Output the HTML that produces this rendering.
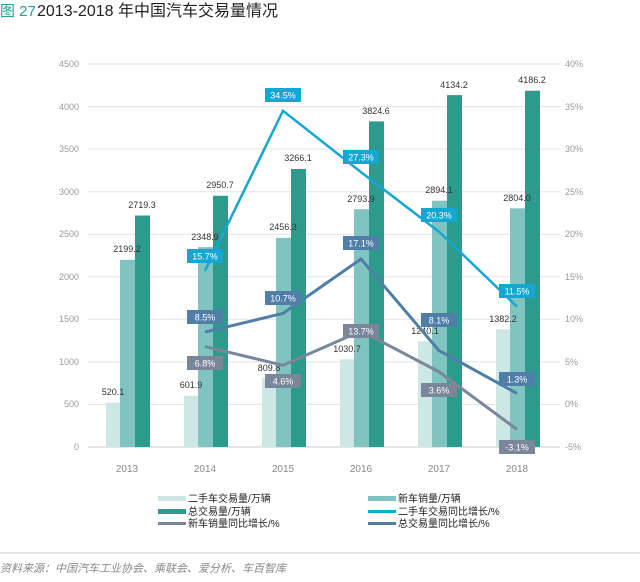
<!DOCTYPE html>
<html><head><meta charset="utf-8"><style>
body{margin:0;background:#fff;width:640px;height:577px;overflow:hidden}
svg text{font-family:"Liberation Sans","Noto Sans CJK SC",sans-serif}
</style></head><body>
<svg width="640" height="577" xmlns="http://www.w3.org/2000/svg">
<text x="0" y="16" font-size="15" fill="#2a9d8f">图 27</text>
<text x="37" y="16" font-size="16" fill="#222">2013-2018 年中国汽车交易量情况</text>
<g stroke="#e3e3e3" stroke-width="1">
<line x1="88" x2="560" y1="64" y2="64"/><line x1="88" x2="560" y1="106.6" y2="106.6"/><line x1="88" x2="560" y1="149.1" y2="149.1"/><line x1="88" x2="560" y1="191.7" y2="191.7"/><line x1="88" x2="560" y1="234.2" y2="234.2"/><line x1="88" x2="560" y1="276.8" y2="276.8"/><line x1="88" x2="560" y1="319.3" y2="319.3"/><line x1="88" x2="560" y1="361.9" y2="361.9"/><line x1="88" x2="560" y1="404.4" y2="404.4"/><line x1="88" x2="560" y1="447" y2="447" stroke="#ccc"/>
</g>
<g font-size="9" fill="#999" text-anchor="end">
<text x="79" y="67">4500</text><text x="79" y="110">4000</text><text x="79" y="152">3500</text><text x="79" y="195">3000</text><text x="79" y="237">2500</text><text x="79" y="280">2000</text><text x="79" y="322">1500</text><text x="79" y="365">1000</text><text x="79" y="407">500</text><text x="79" y="450">0</text>
</g>
<g font-size="9" fill="#999">
<text x="565" y="67">40%</text><text x="565" y="110">35%</text><text x="565" y="152">30%</text><text x="565" y="195">25%</text><text x="565" y="237">20%</text><text x="565" y="280">15%</text><text x="565" y="322">10%</text><text x="565" y="365">5%</text><text x="565" y="407">0%</text><text x="565" y="450">-5%</text>
</g>
<g font-size="10" fill="#888" text-anchor="middle">
<text x="127" y="472">2013</text><text x="205" y="472">2014</text><text x="283" y="472">2015</text><text x="361" y="472">2016</text><text x="439" y="472">2017</text><text x="517" y="472">2018</text>
</g>
<g>
<rect x="106" y="402.7" width="14" height="44.3" fill="#cde7e4"/><rect x="120" y="259.8" width="15" height="187.2" fill="#7fc4c1"/><rect x="135" y="215.5" width="15" height="231.5" fill="#2e9a8e"/>
<rect x="184" y="395.8" width="14" height="51.2" fill="#cde7e4"/><rect x="198" y="247.1" width="15" height="199.9" fill="#7fc4c1"/><rect x="213" y="195.8" width="15" height="251.2" fill="#2e9a8e"/>
<rect x="262" y="378.1" width="14" height="68.9" fill="#cde7e4"/><rect x="276" y="237.9" width="15" height="209.1" fill="#7fc4c1"/><rect x="291" y="169" width="15" height="278" fill="#2e9a8e"/>
<rect x="340" y="359.3" width="14" height="87.7" fill="#cde7e4"/><rect x="354" y="209.2" width="15" height="237.8" fill="#7fc4c1"/><rect x="369" y="121.4" width="15" height="325.6" fill="#2e9a8e"/>
<rect x="418" y="341.4" width="14" height="105.6" fill="#cde7e4"/><rect x="432" y="200.7" width="15" height="246.3" fill="#7fc4c1"/><rect x="447" y="95.1" width="15" height="351.9" fill="#2e9a8e"/>
<rect x="496" y="329.3" width="14" height="117.7" fill="#cde7e4"/><rect x="510" y="208.3" width="15" height="238.7" fill="#7fc4c1"/><rect x="525" y="90.7" width="15" height="356.3" fill="#2e9a8e"/>
</g>
<g font-size="9" fill="#333" text-anchor="middle">
<text x="113" y="395">520.1</text><text x="127" y="252">2199.2</text><text x="142" y="208">2719.3</text>
<text x="191" y="388">601.9</text><text x="205" y="240">2348.9</text><text x="220" y="188">2950.7</text>
<text x="269" y="371">809.8</text><text x="283" y="230">2456.3</text><text x="298" y="161">3266.1</text>
<text x="347" y="352">1030.7</text><text x="361" y="202">2793.9</text><text x="376" y="114">3824.6</text>
<text x="425" y="334">1240.1</text><text x="439" y="193">2894.1</text><text x="454" y="88">4134.2</text>
<text x="503" y="322">1382.2</text><text x="517" y="201">2804.0</text><text x="532" y="83">4186.2</text>
</g>
<polyline fill="none" stroke="#7a8699" stroke-width="3" points="205,346.6 283,365.3 361,331 439,371.8 517,429.4"/>
<polyline fill="none" stroke="#4f7ea6" stroke-width="3" points="205,332.1 283,313.4 361,259 439,350.6 517,393.4"/>
<polyline fill="none" stroke="#14a7d2" stroke-width="2.5" points="205,270.8 283,110.8 361,172.1 439,231.7 517,306.6"/>
<g font-size="9" fill="#fff" text-anchor="middle">
<rect x="187" y="249" width="36" height="14" fill="#14a7d2"/><text x="205" y="259.5">15.7%</text>
<rect x="265" y="88" width="36" height="14" fill="#14a7d2"/><text x="283" y="98.5">34.5%</text>
<rect x="343" y="150" width="36" height="14" fill="#14a7d2"/><text x="361" y="160.5">27.3%</text>
<rect x="421" y="208" width="36" height="14" fill="#14a7d2"/><text x="439" y="218.5">20.3%</text>
<rect x="499" y="284" width="36" height="14" fill="#14a7d2"/><text x="517" y="294.5">11.5%</text>
<rect x="187" y="310" width="36" height="14" fill="#4f7ea6"/><text x="205" y="320.5">8.5%</text>
<rect x="265" y="291" width="36" height="14" fill="#4f7ea6"/><text x="283" y="301.5">10.7%</text>
<rect x="343" y="236" width="36" height="14" fill="#4f7ea6"/><text x="361" y="246.5">17.1%</text>
<rect x="421" y="313" width="36" height="14" fill="#4f7ea6"/><text x="439" y="323.5">8.1%</text>
<rect x="499" y="372" width="36" height="14" fill="#4f7ea6"/><text x="517" y="382.5">1.3%</text>
<rect x="187" y="356" width="36" height="14" fill="#7a8699"/><text x="205" y="366.5">6.8%</text>
<rect x="265" y="374" width="36" height="14" fill="#7a8699"/><text x="283" y="384.5">4.6%</text>
<rect x="343" y="324" width="36" height="14" fill="#7a8699"/><text x="361" y="334.5">13.7%</text>
<rect x="421" y="383" width="36" height="14" fill="#7a8699"/><text x="439" y="393.5">3.6%</text>
<rect x="499" y="440" width="36" height="14" fill="#7a8699"/><text x="517" y="450.5">-3.1%</text>
</g>
<g font-size="10" fill="#222">
<rect x="158" y="496" width="28" height="5" fill="#cde7e4"/><text x="188" y="502">二手车交易量/万辆</text>
<rect x="158" y="509" width="28" height="5" fill="#2e9a8e"/><text x="188" y="515">总交易量/万辆</text>
<rect x="158" y="522" width="28" height="3" fill="#7a8699"/><text x="188" y="527">新车销量同比增长/%</text>
<rect x="368" y="496" width="28" height="5" fill="#7fc4c1"/><text x="398" y="502">新车销量/万辆</text>
<rect x="368" y="510" width="28" height="3" fill="#14a7d2"/><text x="398" y="515">二手车交易同比增长/%</text>
<rect x="368" y="522" width="28" height="3" fill="#4f7ea6"/><text x="398" y="527">总交易量同比增长/%</text>
</g>
<line x1="0" x2="640" y1="553" y2="553" stroke="#ccc"/>
<text x="0" y="572" font-size="11" fill="#888" font-style="italic">资料来源：中国汽车工业协会、乘联会、爱分析、车百智库</text>
</svg>
</body></html>
